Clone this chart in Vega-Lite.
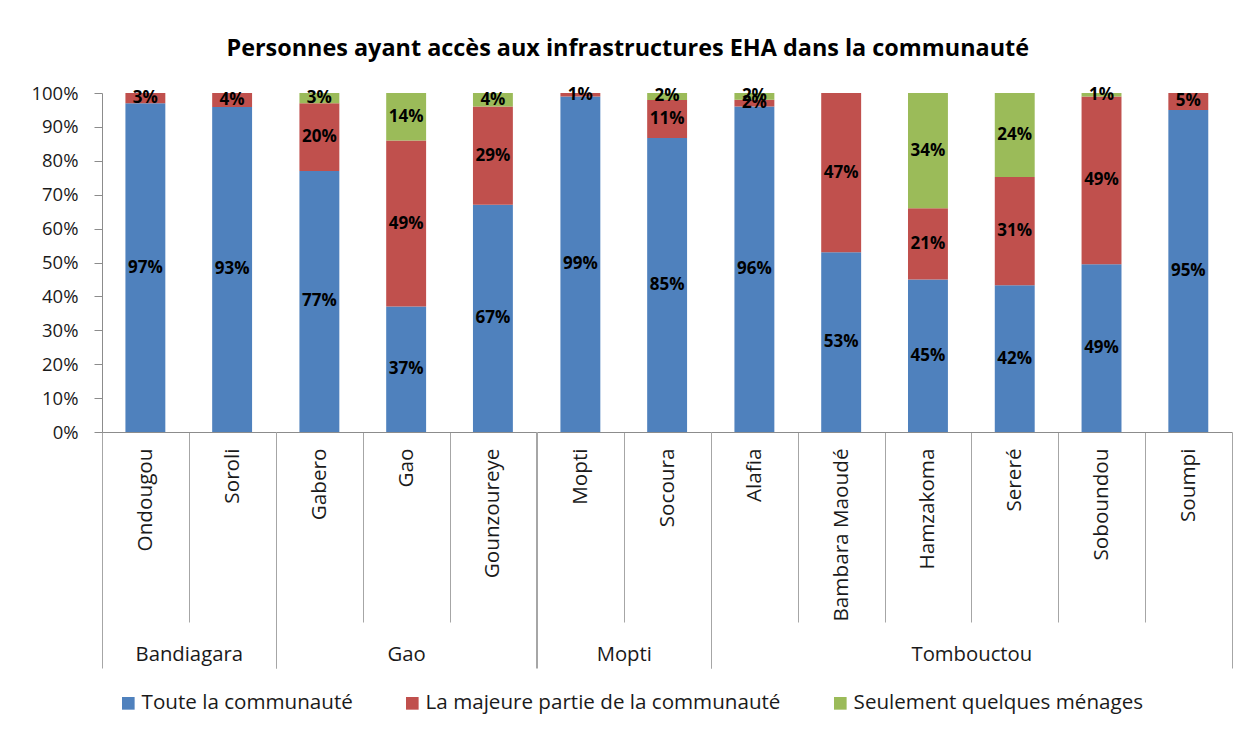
{
  "$schema": "https://vega.github.io/schema/vega-lite/v6.json",
  "background": "white",
  "bounds": "flush",
  "padding": {"left": 30, "top": 36, "right": 10, "bottom": 10},
  "title": {
    "text": "Personnes ayant accès aux infrastructures EHA dans la communauté",
    "font": "Open Sans",
    "fontSize": 23.4,
    "fontWeight": "bold",
    "color": "#000000",
    "anchor": "middle",
    "dx": -4,
    "offset": 23
  },
  "datasets": {
    "main": [
      {"region": "Bandiagara", "site": "Ondougou", "cat": "Toute la communauté", "k": 1, "v": 0.97},
      {"region": "Bandiagara", "site": "Ondougou", "cat": "La majeure partie de la communauté", "k": 2, "v": 0.03},
      {"region": "Bandiagara", "site": "Soroli", "cat": "Toute la communauté", "k": 1, "v": 0.93},
      {"region": "Bandiagara", "site": "Soroli", "cat": "La majeure partie de la communauté", "k": 2, "v": 0.04},
      {"region": "Gao", "site": "Gabero", "cat": "Toute la communauté", "k": 1, "v": 0.77},
      {"region": "Gao", "site": "Gabero", "cat": "La majeure partie de la communauté", "k": 2, "v": 0.20},
      {"region": "Gao", "site": "Gabero", "cat": "Seulement quelques ménages", "k": 3, "v": 0.03},
      {"region": "Gao", "site": "Gao", "cat": "Toute la communauté", "k": 1, "v": 0.37},
      {"region": "Gao", "site": "Gao", "cat": "La majeure partie de la communauté", "k": 2, "v": 0.49},
      {"region": "Gao", "site": "Gao", "cat": "Seulement quelques ménages", "k": 3, "v": 0.14},
      {"region": "Gao", "site": "Gounzoureye", "cat": "Toute la communauté", "k": 1, "v": 0.67},
      {"region": "Gao", "site": "Gounzoureye", "cat": "La majeure partie de la communauté", "k": 2, "v": 0.29},
      {"region": "Gao", "site": "Gounzoureye", "cat": "Seulement quelques ménages", "k": 3, "v": 0.04},
      {"region": "Mopti", "site": "Mopti", "cat": "Toute la communauté", "k": 1, "v": 0.99},
      {"region": "Mopti", "site": "Mopti", "cat": "La majeure partie de la communauté", "k": 2, "v": 0.01},
      {"region": "Mopti", "site": "Socoura", "cat": "Toute la communauté", "k": 1, "v": 0.85},
      {"region": "Mopti", "site": "Socoura", "cat": "La majeure partie de la communauté", "k": 2, "v": 0.11},
      {"region": "Mopti", "site": "Socoura", "cat": "Seulement quelques ménages", "k": 3, "v": 0.02},
      {"region": "Tombouctou", "site": "Alafia", "cat": "Toute la communauté", "k": 1, "v": 0.96},
      {"region": "Tombouctou", "site": "Alafia", "cat": "La majeure partie de la communauté", "k": 2, "v": 0.02},
      {"region": "Tombouctou", "site": "Alafia", "cat": "Seulement quelques ménages", "k": 3, "v": 0.02},
      {"region": "Tombouctou", "site": "Bambara Maoudé", "cat": "Toute la communauté", "k": 1, "v": 0.53},
      {"region": "Tombouctou", "site": "Bambara Maoudé", "cat": "La majeure partie de la communauté", "k": 2, "v": 0.47},
      {"region": "Tombouctou", "site": "Hamzakoma", "cat": "Toute la communauté", "k": 1, "v": 0.45},
      {"region": "Tombouctou", "site": "Hamzakoma", "cat": "La majeure partie de la communauté", "k": 2, "v": 0.21},
      {"region": "Tombouctou", "site": "Hamzakoma", "cat": "Seulement quelques ménages", "k": 3, "v": 0.34},
      {"region": "Tombouctou", "site": "Sereré", "cat": "Toute la communauté", "k": 1, "v": 0.42},
      {"region": "Tombouctou", "site": "Sereré", "cat": "La majeure partie de la communauté", "k": 2, "v": 0.31},
      {"region": "Tombouctou", "site": "Sereré", "cat": "Seulement quelques ménages", "k": 3, "v": 0.24},
      {"region": "Tombouctou", "site": "Soboundou", "cat": "Toute la communauté", "k": 1, "v": 0.49},
      {"region": "Tombouctou", "site": "Soboundou", "cat": "La majeure partie de la communauté", "k": 2, "v": 0.49},
      {"region": "Tombouctou", "site": "Soboundou", "cat": "Seulement quelques ménages", "k": 3, "v": 0.01},
      {"region": "Tombouctou", "site": "Soumpi", "cat": "Toute la communauté", "k": 1, "v": 0.95},
      {"region": "Tombouctou", "site": "Soumpi", "cat": "La majeure partie de la communauté", "k": 2, "v": 0.05}
    ]
  },
  "data": {"name": "main"},
  "spacing": 0,
  "resolve": {"scale": {"y": "shared", "color": "shared"}},
  "hconcat": [
    {
      "width": 173.5, "height": 339,
      "transform": [{"filter": "datum.region === 'Bandiagara'"}],
      "resolve": {"scale": {"x": "independent"}, "axis": {"x": "independent"}},
      "layer": [
        {
          "mark": {"type": "bar", "width": {"band": 0.46}},
          "encoding": {
            "x": {"field": "site", "type": "nominal", "sort": null, "scale": {"paddingInner": 0, "paddingOuter": 0},
              "axis": {"orient": "bottom", "title": null, "labelAngle": -90, "tickBand": "extent", "tickSize": 190, "labelPadding": -174, "labelFontSize": 20.7, "domainColor": "#8c8c8c", "tickColor": "#a6a6a6"}},
            "y": {"field": "v", "type": "quantitative", "stack": "normalize", "scale": {"domain": [0, 1], "nice": false},
              "axis": {"title": null, "format": ".0%", "values": [0, 0.1, 0.2, 0.3, 0.4, 0.5, 0.6, 0.7, 0.8, 0.9, 1], "tickCount": 11, "labelOverlap": false, "labelSeparation": 0, "labelBound": false, "grid": false, "tickSize": 8, "labelPadding": 16, "labelFontSize": 18.5, "domainColor": "#8c8c8c", "tickColor": "#8c8c8c"}},
            "color": {"field": "cat", "type": "nominal", "title": null,
              "scale": {"domain": ["Toute la communauté", "La majeure partie de la communauté", "Seulement quelques ménages"], "range": ["#4f81bd", "#c0504d", "#9bbb59"]},
              "legend": {"orient": "none", "legendX": 16, "legendY": 600, "direction": "horizontal"}},
            "order": {"field": "k"}
          }
        },
        {
          "mark": {"type": "text", "font": "Open Sans", "fontWeight": "bold", "fontSize": 17, "color": "#000000", "baseline": "middle"},
          "encoding": {
            "x": {"field": "site", "type": "nominal", "sort": null, "axis": null},
            "y": {"field": "v", "type": "quantitative", "stack": "normalize", "bandPosition": 0.5,
              "axis": {"title": null, "format": ".0%", "values": [0, 0.1, 0.2, 0.3, 0.4, 0.5, 0.6, 0.7, 0.8, 0.9, 1], "tickCount": 11, "labelOverlap": false, "labelSeparation": 0, "labelBound": false, "grid": false, "tickSize": 8, "labelPadding": 16, "labelFontSize": 18.5, "domainColor": "#8c8c8c", "tickColor": "#8c8c8c"}},
            "detail": {"field": "cat"},
            "order": {"field": "k"},
            "text": {"field": "v", "format": ".0%"}
          }
        },
        {
          "mark": {"type": "bar", "opacity": 0},
          "encoding": {
            "x": {"field": "region", "type": "nominal", "scale": {"paddingInner": 0, "paddingOuter": 0},
              "axis": {"orient": "bottom", "title": null, "labelAngle": 0, "tickBand": "extent", "tickSize": 236, "labelPadding": -14, "labelBaseline": "middle", "labelFontSize": 20.3, "domain": false, "tickColor": "#a6a6a6"}}
          }
        }
      ]
    },
    {
      "width": 260.3, "height": 339,
      "transform": [{"filter": "datum.region === 'Gao'"}],
      "resolve": {"scale": {"x": "independent"}, "axis": {"x": "independent"}},
      "layer": [
        {
          "mark": {"type": "bar", "width": {"band": 0.46}},
          "encoding": {
            "x": {"field": "site", "type": "nominal", "sort": null, "scale": {"paddingInner": 0, "paddingOuter": 0},
              "axis": {"orient": "bottom", "title": null, "labelAngle": -90, "tickBand": "extent", "tickSize": 190, "labelPadding": -174, "labelFontSize": 20.7, "domainColor": "#8c8c8c", "tickColor": "#a6a6a6"}},
            "y": {"field": "v", "type": "quantitative", "stack": "normalize", "axis": null},
            "color": {"field": "cat", "type": "nominal", "title": null},
            "order": {"field": "k"}
          }
        },
        {
          "mark": {"type": "text", "font": "Open Sans", "fontWeight": "bold", "fontSize": 17, "color": "#000000", "baseline": "middle"},
          "encoding": {
            "x": {"field": "site", "type": "nominal", "sort": null, "axis": null},
            "y": {"field": "v", "type": "quantitative", "stack": "normalize", "bandPosition": 0.5, "axis": null},
            "detail": {"field": "cat"},
            "order": {"field": "k"},
            "text": {"field": "v", "format": ".0%"}
          }
        },
        {
          "mark": {"type": "bar", "opacity": 0},
          "encoding": {
            "x": {"field": "region", "type": "nominal", "scale": {"paddingInner": 0, "paddingOuter": 0},
              "axis": {"orient": "bottom", "title": null, "labelAngle": 0, "tickBand": "extent", "tickSize": 236, "labelPadding": -14, "labelBaseline": "middle", "labelFontSize": 20.3, "domain": false, "tickColor": "#a6a6a6"}}
          }
        }
      ]
    },
    {
      "width": 173.5, "height": 339,
      "transform": [{"filter": "datum.region === 'Mopti'"}],
      "resolve": {"scale": {"x": "independent"}, "axis": {"x": "independent"}},
      "layer": [
        {
          "mark": {"type": "bar", "width": {"band": 0.46}},
          "encoding": {
            "x": {"field": "site", "type": "nominal", "sort": null, "scale": {"paddingInner": 0, "paddingOuter": 0},
              "axis": {"orient": "bottom", "title": null, "labelAngle": -90, "tickBand": "extent", "tickSize": 190, "labelPadding": -174, "labelFontSize": 20.7, "domainColor": "#8c8c8c", "tickColor": "#a6a6a6"}},
            "y": {"field": "v", "type": "quantitative", "stack": "normalize", "axis": null},
            "color": {"field": "cat", "type": "nominal", "title": null},
            "order": {"field": "k"}
          }
        },
        {
          "mark": {"type": "text", "font": "Open Sans", "fontWeight": "bold", "fontSize": 17, "color": "#000000", "baseline": "middle"},
          "encoding": {
            "x": {"field": "site", "type": "nominal", "sort": null, "axis": null},
            "y": {"field": "v", "type": "quantitative", "stack": "normalize", "bandPosition": 0.5, "axis": null},
            "detail": {"field": "cat"},
            "order": {"field": "k"},
            "text": {"field": "v", "format": ".0%"}
          }
        },
        {
          "mark": {"type": "bar", "opacity": 0},
          "encoding": {
            "x": {"field": "region", "type": "nominal", "scale": {"paddingInner": 0, "paddingOuter": 0},
              "axis": {"orient": "bottom", "title": null, "labelAngle": 0, "tickBand": "extent", "tickSize": 236, "labelPadding": -14, "labelBaseline": "middle", "labelFontSize": 20.3, "domain": false, "tickColor": "#a6a6a6"}}
          }
        }
      ]
    },
    {
      "width": 520.7, "height": 339,
      "transform": [{"filter": "datum.region === 'Tombouctou'"}],
      "resolve": {"scale": {"x": "independent"}, "axis": {"x": "independent"}},
      "layer": [
        {
          "mark": {"type": "bar", "width": {"band": 0.46}},
          "encoding": {
            "x": {"field": "site", "type": "nominal", "sort": null, "scale": {"paddingInner": 0, "paddingOuter": 0},
              "axis": {"orient": "bottom", "title": null, "labelAngle": -90, "tickBand": "extent", "tickSize": 190, "labelPadding": -174, "labelFontSize": 20.7, "domainColor": "#8c8c8c", "tickColor": "#a6a6a6"}},
            "y": {"field": "v", "type": "quantitative", "stack": "normalize", "axis": null},
            "color": {"field": "cat", "type": "nominal", "title": null},
            "order": {"field": "k"}
          }
        },
        {
          "mark": {"type": "text", "font": "Open Sans", "fontWeight": "bold", "fontSize": 17, "color": "#000000", "baseline": "middle"},
          "encoding": {
            "x": {"field": "site", "type": "nominal", "sort": null, "axis": null},
            "y": {"field": "v", "type": "quantitative", "stack": "normalize", "bandPosition": 0.5, "axis": null},
            "detail": {"field": "cat"},
            "order": {"field": "k"},
            "text": {"field": "v", "format": ".0%"}
          }
        },
        {
          "mark": {"type": "bar", "opacity": 0},
          "encoding": {
            "x": {"field": "region", "type": "nominal", "scale": {"paddingInner": 0, "paddingOuter": 0},
              "axis": {"orient": "bottom", "title": null, "labelAngle": 0, "tickBand": "extent", "tickSize": 236, "labelPadding": -14, "labelBaseline": "middle", "labelFontSize": 20.3, "domain": false, "tickColor": "#a6a6a6"}}
          }
        }
      ]
    }
  ],
  "config": {
    "view": {"stroke": null},
    "axis": {"labelFont": "Open Sans", "labelFontSize": 17, "labelColor": "#1a1a1a"},
    "legend": {"labelFont": "Open Sans", "labelFontSize": 20.6, "labelColor": "#1a1a1a", "symbolType": "square", "symbolSize": 160, "symbolStrokeWidth": 0, "columnPadding": 49, "labelLimit": 400, "labelOffset": 3}
  }
}
